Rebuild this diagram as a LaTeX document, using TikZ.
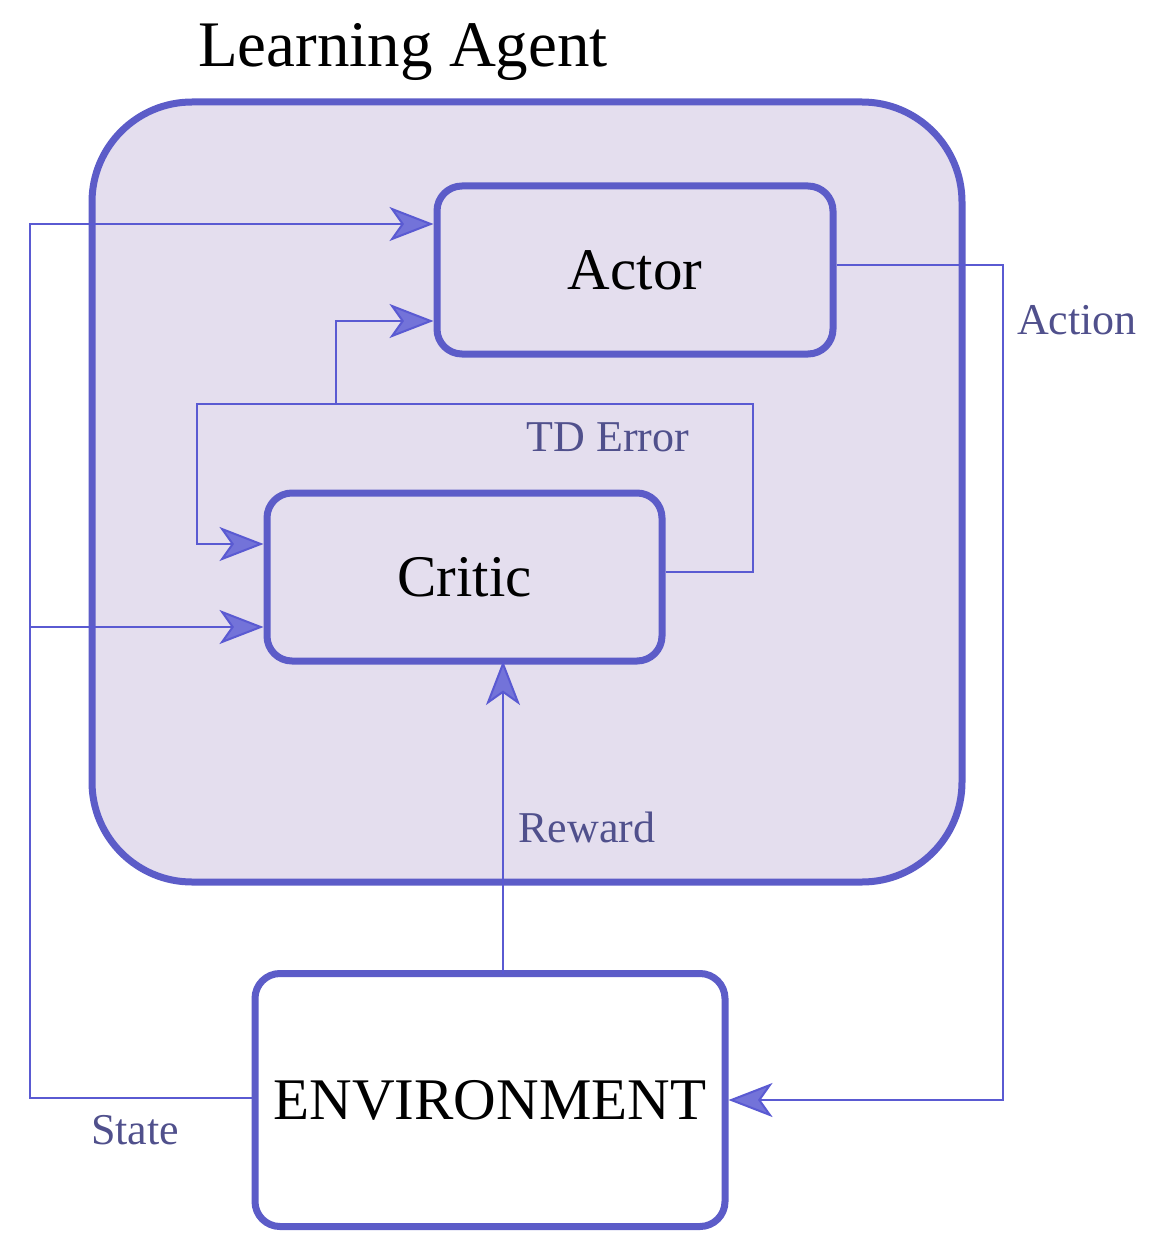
\documentclass[tikz,border=0pt]{standalone}
\usepackage{fontspec}
\setmainfont{Liberation Serif}
\usetikzlibrary{arrows.meta}
\definecolor{bl}{RGB}{92,92,200}
\definecolor{ln}{RGB}{90,90,210}
\definecolor{lav}{RGB}{228,222,238}
\definecolor{lab}{RGB}{80,80,140}
\tikzset{
 box/.style={draw=bl,line width=7pt,rounded corners=25pt,fill=lav},
 conn/.style={draw=ln,line width=2pt,-{Stealth[length=44pt,width=34pt,inset=12pt,fill=ln!85]}},
 lbl/.style={text=lab,font=\fontsize{44}{48}\selectfont,inner sep=0pt}
}
\begin{document}
\begin{tikzpicture}[x=1pt,y=-1pt]
\useasboundingbox (0,0) rectangle (1164,1257);
\draw[draw=bl,line width=7pt,rounded corners=100pt,fill=lav] (92,102) rectangle (962,882);
\node[font=\fontsize{65}{70}\selectfont,inner sep=0pt] (title) at (403,52) {Learning Agent};
\node[box,minimum width=396pt,minimum height=168pt,font=\fontsize{59}{63}\selectfont] (actor) at (635,270) {Actor};
\node[box,minimum width=395pt,minimum height=168pt,font=\fontsize{59}{63}\selectfont] (critic) at (464.5,577) {Critic};
\node[box,fill=white,minimum width=470pt,minimum height=253pt,font=\fontsize{59}{63}\selectfont] (env) at (490,1100) {ENVIRONMENT};
\coordinate (s1) at (30,1098);
\coordinate (s2) at (30,224);
\coordinate (s3) at (30,627);
\coordinate (a1) at (1003,265);
\coordinate (a2) at (1003,1100);
\coordinate (t1) at (753,572);
\coordinate (t2) at (753,404);
\coordinate (t3) at (197,404);
\coordinate (t4) at (197,544);
\coordinate (t5) at (336,404);
\coordinate (t6) at (336,321);
\draw[conn] (env.west |- s1) -- (s1) -- (s2) -- (actor.west |- s2);
\draw[conn] (s3) -- (critic.west |- s3);
\draw[conn] (actor.east |- a1) -- (a1) -- (a2) -- (env.east |- a2);
\draw[conn] (503,974) -- (503,661);
\draw[conn] (critic.east |- t1) -- (t1) -- (t2) -- (t3) -- (t4) -- (critic.west |- t4);
\draw[conn] (t5) -- (t6) -- (actor.west |- t6);
\node[lbl] (la) at (1077,320) {Action};
\node[lbl] (lt) at (608,437) {TD Error};
\node[lbl] (lr) at (587,827) {Reward};
\node[lbl] (ls) at (135,1130) {State};
\end{tikzpicture}
\end{document}
